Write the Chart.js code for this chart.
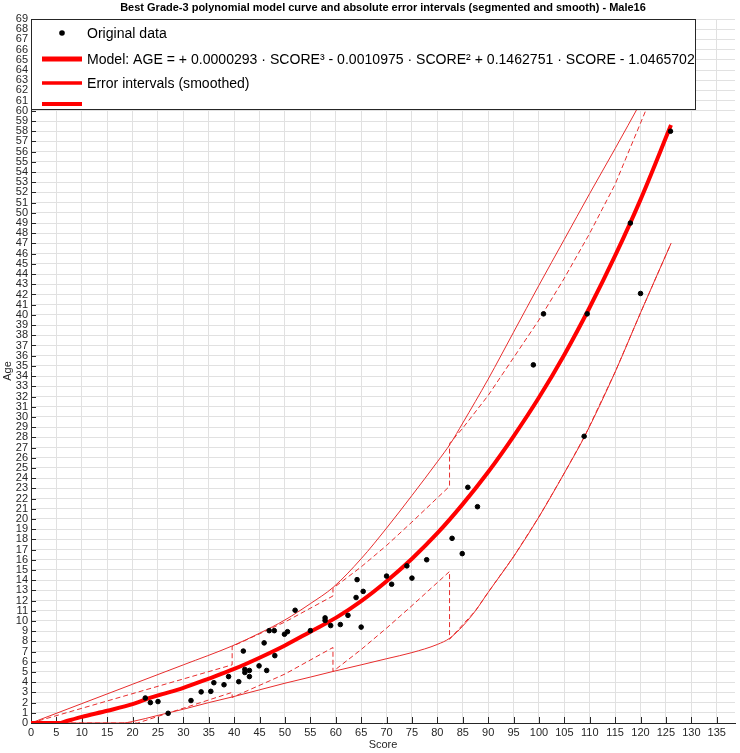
<!DOCTYPE html>
<html lang="en">
<head>
    <meta charset="UTF-8">
    <title>Best Grade-3 polynomial model - Male16</title>
    <script src="https://cdn.jsdelivr.net/npm/chart.js@4.4.1/dist/chart.umd.min.js"></script>
    <style>
        body {
            margin: 0;
            background: white;
        }

        #grafico {
            display: block;
        }
    </style>
</head>
<body>
<canvas id="grafico" width="740" height="753"></canvas>

<script>
    // dados originais (score, idade)
    const dataScore = [22.5, 23.5, 25.0, 27.0, 31.5, 33.5, 35.4, 36.0, 38.0, 38.9, 40.9, 41.8, 42.1, 42.1, 43.0, 43.0,
        44.9, 45.9, 46.4, 46.9, 47.9, 48.0, 49.9, 50.5, 52.0, 55.0, 57.9, 57.9, 59.0, 60.9, 62.4, 64.0, 64.2, 65.0,
        65.4, 70.0, 71.0, 74.0, 75.0, 77.9, 82.9, 84.9, 86.0, 87.9, 98.9, 100.9, 109.5, 108.9, 118.0, 120.0, 125.9];
    const dataAge = [2.45, 2.0, 2.1, 0.95, 2.2, 3.05, 3.1, 3.95, 3.75, 4.55, 4.05, 7.05, 5.25, 4.95, 5.15, 4.55,
        5.6, 7.85, 5.15, 9.05, 9.05, 6.6, 8.7, 8.95, 11.05, 9.05, 10.3, 10.05, 9.55, 9.65, 10.55, 12.3, 14.05, 9.4,
        12.9, 14.4, 13.6, 15.4, 14.2, 16.0, 18.1, 16.6, 23.1, 21.2, 35.1, 40.1, 40.1, 28.1, 49.0, 42.1, 58.0];

    // curva do modelo
    const modelScore = [0, 5.7, 6.5, 10, 15, 20, 22.5, 25, 30, 35, 40, 45, 50, 55, 60, 65, 70, 75, 80, 85, 90, 95,
        100, 105, 110, 115, 120, 126];
    const modelAge = [0, 0, 0.11, 0.6, 1.2, 1.85, 2.3, 2.7, 3.45, 4.35, 5.3, 6.4, 7.6, 8.95, 10.3, 11.95, 13.9, 16.1,
        18.6, 21.45, 24.6, 28.1, 31.9, 36.1, 40.75, 45.8, 51.3, 58.6];

    // intervalos suavizados
    const upperSmoothScore = [0, 10, 20, 30, 39.6, 45, 50, 55, 59.5, 65, 70, 75, 80, 82.6, 85, 90, 95, 100, 105,
        110, 115, 120, 126];
    const upperSmoothAge = [0, 1.9, 3.8, 5.7, 7.55, 8.8, 10.1, 11.7, 13.3, 16.1, 19.1, 22.3, 25.6, 27.4, 29.4,
        33.7, 38.3, 42.9, 47.4, 51.9, 56.3, 60.8, 66.3];
    const lowerSmoothScore = [0, 18, 20, 25, 30, 35, 39.6, 45, 50, 55, 59.45, 65, 70, 75, 80, 82.4, 85, 87.5, 90,
        95, 100, 105, 109, 115, 120, 126];
    const lowerSmoothAge = [0, 0, 0.15, 0.75, 1.35, 2.0, 2.55, 3.25, 3.9, 4.5, 5.05, 5.7, 6.3, 6.9, 7.7, 8.3,
        9.5, 11.0, 12.8, 16.3, 20.2, 24.5, 28.1, 34.4, 40.2, 47.0];

    // intervalos segmentados
    const upperSegScore = [0, 39.6, 39.6, 50, 59.45, 59.45, 65, 70, 75, 82.4, 82.4, 85, 90, 95, 100, 105, 110, 115,
        121, 126];
    const upperSegAge = [0, 5.7, 7.5, 9.9, 12.45, 13.2, 15.3, 17.4, 19.7, 23.2, 27.4, 28.9, 32.1, 35.8, 39.5, 43.6,
        48.0, 52.8, 60.0, 65.5];
    const lowerSegScore = [0, 21, 39.6, 39.6, 50, 59.45, 59.45, 65, 70, 75, 82.4, 82.4, 85.3, 87.5, 90, 95, 100, 105,
        109, 115, 120, 126];
    const lowerSegAge = [0, 0, 3.0, 2.5, 4.8, 7.4, 5.05, 7.2, 9.3, 11.5, 14.85, 8.2, 9.8, 11.0, 12.8, 16.3, 20.2,
        24.5, 28.1, 34.4, 40.2, 47.0];

    const xTickStep = 5;
    const yTickStep = 1;

    const titulo = "Best Grade-3 polynomial model curve and absolute error intervals (segmented and smooth) - Male16";
    const legendas = [
        "Original data",
        "Model: AGE = + 0.0000293 \u00b7 SCORE\u00b3 - 0.0010975 \u00b7 SCORE\u00b2 + 0.1462751 \u00b7 SCORE - 1.0465702",
        "Error intervals (smoothed)",
        ""
    ];

    function pares(xs, ys) {
        return xs.map((x, i) => ({x: x, y: ys[i]}));
    }

    const FONTE = '"Liberation Sans", Arial, sans-serif';
    const VERMELHO = '#ff0000';
    const VERMELHO_FINO = 'rgb(232, 45, 45)';
    const EIXO = '#262626';

    // título, nomes dos eixos, marcas internas e caixa de legenda
    const decoracao = {
        id: 'decoracao',
        beforeDatasetsDraw(chart) {
            const {ctx, chartArea: a, scales} = chart;
            ctx.save();
            ctx.strokeStyle = EIXO;
            ctx.lineWidth = 1;
            ctx.beginPath();
            scales.x.ticks.forEach(t => {
                const px = Math.round(scales.x.getPixelForValue(t.value)) + 0.5;
                ctx.moveTo(px, a.bottom);
                ctx.lineTo(px, a.bottom - 6);
            });
            scales.y.ticks.forEach(t => {
                const py = Math.round(scales.y.getPixelForValue(t.value)) + 0.5;
                ctx.moveTo(a.left, py);
                ctx.lineTo(a.left + 5, py);
            });
            ctx.stroke();
            ctx.restore();
        },
        afterDraw(chart) {
            const {ctx, chartArea: a} = chart;
            ctx.save();

            // título
            ctx.fillStyle = '#000';
            ctx.font = 'bold 11px ' + FONTE;
            ctx.textAlign = 'center';
            ctx.textBaseline = 'middle';
            ctx.fillText(titulo, (a.left + a.right) / 2, 8);

            // nomes dos eixos
            ctx.fillStyle = EIXO;
            ctx.font = '11px ' + FONTE;
            ctx.fillText('Score', (a.left + a.right) / 2, 745);
            ctx.save();
            ctx.translate(8, (a.top + a.bottom) / 2);
            ctx.rotate(-Math.PI / 2);
            ctx.fillText('Age', 0, 0);
            ctx.restore();

            // caixa da legenda
            const bx = a.left, by = a.top, bw = 664, bh = 90;
            ctx.fillStyle = '#fff';
            ctx.fillRect(bx, by, bw, bh);
            ctx.strokeStyle = EIXO;
            ctx.lineWidth = 1;
            ctx.strokeRect(bx + 0.5, by + 0.5, bw, bh);

            const linhas = [33, 59, 83, 104];
            const espessuras = [0, 5, 3.5, 4];
            ctx.font = '16px ' + FONTE;
            const larguraModelo = ctx.measureText(legendas[1]).width;
            const tamanho = Math.min(17, 16 * 608 / larguraModelo);
            ctx.font = tamanho.toFixed(2) + 'px ' + FONTE;
            ctx.textAlign = 'left';
            legendas.forEach((txt, i) => {
                const y = linhas[i];
                if (i === 0) {
                    ctx.fillStyle = '#000';
                    ctx.beginPath();
                    ctx.arc(62, y, 2.8, 0, Math.PI * 2);
                    ctx.fill();
                } else {
                    ctx.strokeStyle = VERMELHO;
                    ctx.lineWidth = espessuras[i];
                    ctx.beginPath();
                    ctx.moveTo(42, y);
                    ctx.lineTo(82, y);
                    ctx.stroke();
                }
                ctx.fillStyle = '#000';
                ctx.fillText(txt, 87, y + 1);
            });
            ctx.restore();
        }
    };

    const ctx = document.getElementById("grafico").getContext("2d");
    const grafico = new Chart(ctx, {
        type: 'scatter',
        data: {
            datasets: [
                {
                    label: 'Original data', data: pares(dataScore, dataAge),
                    backgroundColor: '#000', borderColor: '#000', pointRadius: 2.3, order: 0
                },
                {
                    label: 'Model', data: pares(modelScore, modelAge), showLine: true,
                    borderColor: VERMELHO, borderWidth: 4, pointRadius: 0,
                    cubicInterpolationMode: 'monotone', order: 1
                },
                {
                    label: 'Upper smoothed', data: pares(upperSmoothScore, upperSmoothAge), showLine: true,
                    borderColor: VERMELHO_FINO, borderWidth: 1, pointRadius: 0,
                    cubicInterpolationMode: 'monotone', order: 2
                },
                {
                    label: 'Lower smoothed', data: pares(lowerSmoothScore, lowerSmoothAge), showLine: true,
                    borderColor: VERMELHO_FINO, borderWidth: 1, pointRadius: 0,
                    cubicInterpolationMode: 'monotone', order: 2
                },
                {
                    label: 'Upper segmented', data: pares(upperSegScore, upperSegAge), showLine: true,
                    borderColor: VERMELHO_FINO, borderWidth: 1, borderDash: [5, 3], pointRadius: 0, order: 3
                },
                {
                    label: 'Lower segmented', data: pares(lowerSegScore, lowerSegAge), showLine: true,
                    borderColor: VERMELHO_FINO, borderWidth: 1, borderDash: [5, 3], pointRadius: 0, order: 3
                }
            ]
        },
        options: {
            responsive: false,
            animation: false,
            devicePixelRatio: 1,
            layout: {padding: {top: 19, right: 0, left: 0, bottom: 0}},
            plugins: {
                legend: {display: false},
                title: {display: false},
                tooltip: {enabled: false}
            },
            scales: {
                x: {
                    type: 'linear', min: 0, max: 138.6,
                    afterFit: s => { s.height = 30; },
                    ticks: {
                        stepSize: xTickStep, autoSkip: false, includeBounds: false, maxRotation: 0,
                        color: EIXO, font: {family: FONTE, size: 11}, padding: 3
                    },
                    grid: {color: '#e1e1e1', drawTicks: false},
                    border: {color: EIXO}
                },
                y: {
                    min: 0, max: 69,
                    afterFit: s => { s.width = 31; },
                    ticks: {
                        stepSize: yTickStep, autoSkip: false, includeBounds: false,
                        color: EIXO, font: {family: FONTE, size: 11}, padding: 3
                    },
                    grid: {color: '#e1e1e1', drawTicks: false},
                    border: {color: EIXO}
                }
            }
        },
        plugins: [decoracao]
    });
</script>
</body>
</html>
